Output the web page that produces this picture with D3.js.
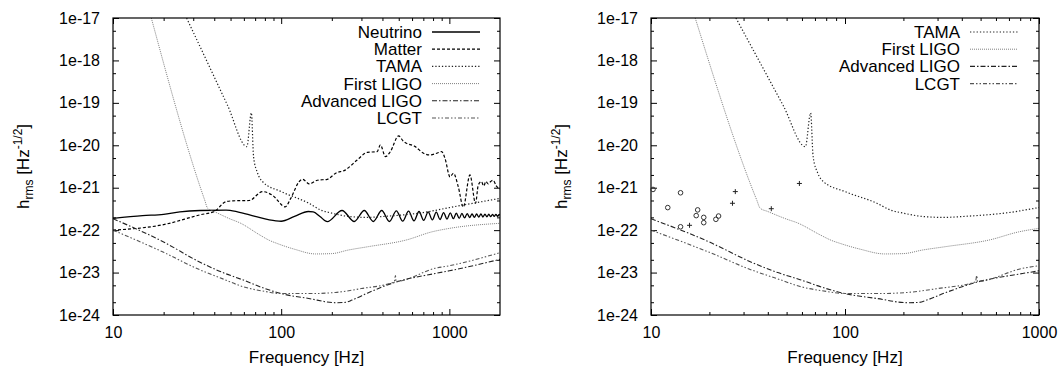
<!DOCTYPE html>
<html><head><meta charset="utf-8">
<script src="https://cdn.jsdelivr.net/npm/d3@7"></script>
<style>
body{margin:0;background:#fff}
svg{display:block}
text{font-family:"Liberation Sans",Arial,Helvetica,sans-serif;fill:#000}
</style>
</head><body>
<svg id="c" width="1060" height="367"></svg>
<script>
// ---------- data (frequency in Hz, h_rms in Hz^-1/2) ----------
const neutrinoFreq = [10,15,20,25,33,47,55,70,93,100,120,145,155,170,188,
  230,272,312,353,396,440,484,528,572,616,660,704,748,792,836,880,924,968,1012,1056,
  1100,1144,1188,1232,1276,1320,1364,1408,1452,1496,1540,1584,1628,1672,1716,1760,1804,1848,1892,1936,1980,2000];
const neutrinoH = [1.9e-22,2.2e-22,2.35e-22,2.7e-22,2.9e-22,2.95e-22,2.7e-22,2.1e-22,1.65e-22,1.62e-22,2.1e-22,2.75e-22,2.7e-22,2.1e-22,1.58e-22,
  2.9e-22,1.6e-22,2.9e-22,1.6e-22,2.9e-22,1.6e-22,2.85e-22,1.63e-22,2.8e-22,1.66e-22,2.75e-22,1.7e-22,2.7e-22,1.74e-22,2.65e-22,1.78e-22,2.6e-22,1.82e-22,2.55e-22,1.86e-22,
  2.5e-22,1.9e-22,2.48e-22,1.94e-22,2.45e-22,1.98e-22,2.42e-22,2.0e-22,2.4e-22,2.02e-22,2.4e-22,2.04e-22,2.38e-22,2.06e-22,2.37e-22,2.08e-22,2.36e-22,2.1e-22,2.35e-22,2.12e-22,2.34e-22,2.25e-22];

const matterFreq = [10,20,33,40,47,51.5,64.5,77.6,88.9,105.7,114,128,134,147,164,188,211,240,283,325,372,389,417,446,499,534,627,702,768,841,900,942,1009,1057,1130,1210,1325,1431,1485,1550,1600,1650,1702,1760,1820,1900,2000];
const matterH = [1.0e-22,1.35e-22,2.3e-22,2.75e-22,4.7e-22,4.9e-22,5.0e-22,8.1e-22,6.6e-22,3.55e-22,5.6e-22,1.4e-21,1.58e-21,1.23e-21,1.5e-21,1.58e-21,2.2e-21,2.6e-21,4.5e-21,6.8e-21,7.1e-21,1.02e-20,5.4e-21,7.1e-21,1.66e-20,1.23e-20,9.3e-21,6.5e-21,5.9e-21,6.5e-21,7.1e-21,4.9e-21,1.8e-21,2.2e-21,1.05e-21,3.5e-22,2.0e-21,4.3e-22,1.15e-21,1.4e-21,1.1e-21,1.4e-21,1.23e-21,1.4e-21,1.5e-21,1.1e-21,9.3e-22];

const tamaFreq = [27.4,48,62.5,66.5,68.5,72.4,77.6,100,146,171,201,252,320,440,700,1000,2000];
const tamaH = [1e-17,8.7e-20,9.3e-21,5.8e-20,5.4e-21,2.2e-21,1.38e-21,8.1e-22,4.3e-22,3.0e-22,2.5e-22,2.1e-22,2.0e-22,2.15e-22,2.6e-22,3.4e-22,5.6e-22];

const ligoFreq = [16.9,35.1,36.5,40,50,56.5,75,85,94,120,160,200,251,332,558,786,1000,2000];
const ligoH = [1e-17,5.1e-22,3.3e-22,2.75e-22,1.82e-22,1.5e-22,7.6e-23,5.75e-23,4.9e-23,3.55e-23,2.75e-23,2.8e-23,3.4e-23,4.1e-23,5.9e-23,9.1e-23,1.1e-22,1.45e-22];

const aligoFreq = [10,20,32.7,45,58.7,80,100,146,210,240,264,332,476,822,1000,2000];
const aligoH = [1.86e-22,5.25e-23,1.78e-23,1.0e-23,6.8e-24,4.2e-24,3.2e-24,2.45e-24,1.95e-24,1.98e-24,2.25e-24,3.4e-24,5.9e-24,9.5e-24,1.1e-23,2.05e-23];

const lcgtFreq = [10,20,32.7,45,58.7,80,100,150,210,300,470,478,482,822,1000,2000];
const lcgtH = [1.0e-22,3.0e-23,1.17e-23,7.1e-24,4.7e-24,3.6e-24,3.2e-24,3.2e-24,3.4e-24,4.2e-24,6.0e-24,8.5e-24,6.2e-24,1.26e-23,1.45e-23,2.95e-23];

const circleFreq = [10.24,12.2,14.2,14.2,17.4,17.1,18.7,18.7,21.6,22.3];
const circleH = [9.1e-22,3.4e-22,7.6e-22,1.2e-22,3.0e-22,2.2e-22,2.0e-22,1.5e-22,1.8e-22,2.15e-22];
const plusFreq = [15.8,26.3,27.2,41.7,58.2];
const plusH = [1.3e-22,4.3e-22,8.1e-22,3.2e-22,1.26e-21];

const yTickValues = [1e-17,1e-18,1e-19,1e-20,1e-21,1e-22,1e-23,1e-24];
const yTickLabels = ["1e-17","1e-18","1e-19","1e-20","1e-21","1e-22","1e-23","1e-24"];
const xTickValues = [10,100,1000];
const xTickLabels = ["10","100","1000"];
const legendLeft = ["Neutrino","Matter","TAMA","First LIGO","Advanced LIGO","LCGT"];
const legendRight = ["TAMA","First LIGO","Advanced LIGO","LCGT"];

// ---------- styles ----------
const styles = {
  "Neutrino":      {stroke:"#000", dash:null, w:1.3},
  "Matter":        {stroke:"#000", dash:"3,2", w:1.2},
  "TAMA":          {stroke:"#222", dash:"1.3,2", w:1.2},
  "First LIGO":    {stroke:"#808080", dash:"1,1", w:1.0},
  "Advanced LIGO": {stroke:"#222", dash:"5,2,1.5,2", w:1.1},
  "LCGT":          {stroke:"#555", dash:"4,2,1.5,2,1.5,2", w:1.1}
};
const series = {
  "Neutrino": [neutrinoFreq, neutrinoH],
  "Matter": [matterFreq, matterH],
  "TAMA": [tamaFreq, tamaH],
  "First LIGO": [ligoFreq, ligoH],
  "Advanced LIGO": [aligoFreq, aligoH],
  "LCGT": [lcgtFreq, lcgtH]
};

const svg = d3.select("#c");
const Y0 = 18, Y1 = 315;
const y = d3.scaleLog().domain([1e-24,1e-17]).range([Y1,Y0]);

function minorX(dom){
  const out=[];
  for (let d=10; d<dom[1]; d*=10) for (let m=2;m<=9;m++){ const v=m*d; if(v<dom[1]) out.push(v); }
  return out;
}
function minorY(){
  const out=[];
  for (let e=-24;e<-17;e++){ out.push(2*Math.pow(10,e)); out.push(5*Math.pow(10,e)); }
  return out;
}

function panel(id, x0, x1, xmax, names, legendX, points){
  const x = d3.scaleLog().domain([10,xmax]).range([x0,x1]);
  const g = svg.append("g");
  const clipId = "clip"+id;
  svg.append("clipPath").attr("id",clipId).append("rect")
    .attr("x",x0).attr("y",Y0).attr("width",x1-x0).attr("height",Y1-Y0);

  const xMaj = xTickValues.filter(v=>v<=xmax);
  const xLab = xTickLabels.filter((l,i)=>xTickValues[i]<=xmax);
  const styleAxis = s => { s.select(".domain").remove(); s.selectAll("line").attr("stroke","#000"); s.selectAll("text").attr("font-size",16).attr("font-family","Liberation Sans, Arial, sans-serif").attr("fill","#000"); };

  g.append("g").attr("transform",`translate(0,${Y1})`)
    .call(d3.axisBottom(x).tickValues(xMaj).tickFormat((d,i)=>xLab[i]).tickSizeInner(-6).tickSizeOuter(0).tickPadding(12))
    .call(styleAxis);
  g.append("g").attr("transform",`translate(0,${Y1})`)
    .call(d3.axisBottom(x).tickValues(minorX([10,xmax])).tickFormat("").tickSizeInner(-3).tickSizeOuter(0)).call(styleAxis);
  g.append("g").attr("transform",`translate(0,${Y0})`)
    .call(d3.axisTop(x).tickValues(xMaj).tickFormat("").tickSizeInner(-6).tickSizeOuter(0)).call(styleAxis);
  g.append("g").attr("transform",`translate(0,${Y0})`)
    .call(d3.axisTop(x).tickValues(minorX([10,xmax])).tickFormat("").tickSizeInner(-3).tickSizeOuter(0)).call(styleAxis);
  g.append("g").attr("transform",`translate(${x0},0)`)
    .call(d3.axisLeft(y).tickValues(yTickValues).tickFormat((d,i)=>yTickLabels[i]).tickSizeInner(-6).tickSizeOuter(0).tickPadding(13))
    .call(styleAxis);
  g.append("g").attr("transform",`translate(${x0},0)`)
    .call(d3.axisLeft(y).tickValues(minorY()).tickFormat("").tickSizeInner(-3).tickSizeOuter(0)).call(styleAxis);
  g.append("g").attr("transform",`translate(${x1},0)`)
    .call(d3.axisRight(y).tickValues(yTickValues).tickFormat("").tickSizeInner(-6).tickSizeOuter(0)).call(styleAxis);
  g.append("g").attr("transform",`translate(${x1},0)`)
    .call(d3.axisRight(y).tickValues(minorY()).tickFormat("").tickSizeInner(-3).tickSizeOuter(0)).call(styleAxis);

  // curves
  const line = d3.line().x(d=>x(d[0])).y(d=>y(d[1])).curve(d3.curveMonotoneX);
  const cg = g.append("g").attr("clip-path",`url(#${clipId})`);
  names.forEach(n=>{
    const [fs,hs] = series[n];
    const st = styles[n];
    cg.append("path").datum(fs.map((f,i)=>[f,hs[i]]))
      .attr("d",line).attr("fill","none").attr("stroke",st.stroke)
      .attr("stroke-width",st.w).attr("stroke-dasharray",st.dash);
  });

  // frame
  g.append("rect").attr("x",x0).attr("y",Y0).attr("width",x1-x0).attr("height",Y1-Y0)
    .attr("fill","none").attr("stroke","#000").attr("stroke-width",1.2);

  if (points){
    g.selectAll("circle.pt").data(circleFreq.map((f,i)=>[f,circleH[i]])).enter().append("circle")
      .attr("cx",d=>x(d[0])).attr("cy",d=>y(d[1])).attr("r",2.3)
      .attr("fill","none").attr("stroke","#333").attr("stroke-width",1);
    g.selectAll("path.plus").data(plusFreq.map((f,i)=>[f,plusH[i]])).enter().append("path")
      .attr("d",d=>{const px=x(d[0]),py=y(d[1]);return `M${px-2.5},${py}H${px+2.5}M${px},${py-2.5}V${py+2.5}`;})
      .attr("stroke","#222").attr("stroke-width",1).attr("fill","none");
  }

  // legend
  names.forEach((n,i)=>{
    const cy = 32 + i*17.2;
    g.append("text").attr("x",legendX).attr("y",cy+6).attr("text-anchor","end")
      .attr("font-size",17).text(n);
    const st = styles[n];
    g.append("line").attr("x1",legendX+10).attr("x2",legendX+58).attr("y1",cy).attr("y2",cy)
      .attr("stroke",st.stroke).attr("stroke-width",st.w).attr("stroke-dasharray",st.dash);
  });

  // axis titles
  g.append("text").attr("x",(x0+x1)/2).attr("y",363).attr("text-anchor","middle")
    .attr("font-size",17).text("Frequency [Hz]");
  const yt = g.append("text").attr("transform",`translate(${x0-84},${(Y0+Y1)/2}) rotate(-90)`)
    .attr("text-anchor","middle").attr("font-size",17);
  yt.append("tspan").text("h");
  yt.append("tspan").attr("font-size",12).attr("dy",4).text("rms");
  yt.append("tspan").attr("dy",-4).text(" [Hz");
  yt.append("tspan").attr("font-size",12).attr("dy",-7).text("-1/2");
  yt.append("tspan").attr("dy",7).text("]");
}

panel("L", 113, 500, 2000, legendLeft, 422, false);
panel("R", 651, 1039, 1000, legendRight, 960, true);
</script>
</body></html>
